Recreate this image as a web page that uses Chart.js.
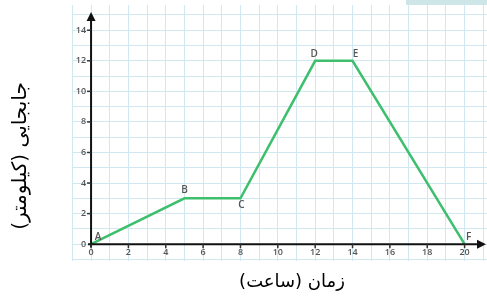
<!DOCTYPE html>
<html>
<head>
<meta charset="utf-8">
<script src="https://cdn.jsdelivr.net/npm/chart.js@4/dist/chart.umd.min.js"></script>
<style>
  body { margin: 0; background: #fff; }
</style>
</head>
<body>
<canvas id="myChart" width="487" height="300"></canvas>
<script>
// time (hours) and displacement (km)
var hours = [0, 5, 8, 12, 14, 20];
var km = [0, 3, 3, 12, 12, 0];
var pointNames = ['A', 'B', 'C', 'D', 'E', 'F'];
var xTickLabels = [0, 2, 4, 6, 8, 10, 12, 14, 16, 18, 20];
var yTickLabels = [0, 2, 4, 6, 8, 10, 12, 14];
var xTitel = 'زمان (ساعت)';
var yTitel = 'جابجایی (کیلومتر)';

// where each letter sits relative to its point
var nameOffsets = [[7, -7], [0, -8], [1, 7], [-1, -7], [3, -7], [4, -7]];

var punten = hours.map(function (h, i) { return { x: h, y: km[i] }; });

function eenheden(lo, hi) {
    var t = [];
    for (var v = lo; v <= hi; v++) t.push({ value: v });
    return t;
}

var assen = {
    id: 'assen',
    beforeDraw: function (chart) {
        var c = chart.ctx;
        c.save();
        c.fillStyle = '#cfe6e9';
        c.fillRect(406, 0, 81, 5);
        c.restore();
    },
    afterDatasetsDraw: function (chart) {
        var c = chart.ctx;
        var xs = chart.scales.x, ys = chart.scales.y;
        var x0 = xs.getPixelForValue(0), y0 = ys.getPixelForValue(0);
        c.save();
        c.strokeStyle = '#111';
        c.fillStyle = '#111';
        c.lineWidth = 2;
        // y axis with arrow
        var top = 12;
        c.beginPath();
        c.moveTo(x0, y0 + 3);
        c.lineTo(x0, top + 6);
        c.stroke();
        c.beginPath();
        c.moveTo(x0, top);
        c.lineTo(x0 - 4.5, top + 9);
        c.lineTo(x0 + 4.5, top + 9);
        c.closePath();
        c.fill();
        // x axis with arrow
        var right = 486;
        c.beginPath();
        c.moveTo(x0 - 3, y0);
        c.lineTo(right - 6, y0);
        c.stroke();
        c.beginPath();
        c.moveTo(right, y0);
        c.lineTo(right - 9, y0 - 4.5);
        c.lineTo(right - 9, y0 + 4.5);
        c.closePath();
        c.fill();

        // tick marks and labels
        c.lineWidth = 1.5;
        c.font = '600 9px "Open Sans"';
        c.fillStyle = '#555';
        c.strokeStyle = '#333';
        c.textAlign = 'right';
        c.textBaseline = 'middle';
        yTickLabels.forEach(function (v) {
            var py = ys.getPixelForValue(v);
            if (v !== 0) {
                c.beginPath();
                c.moveTo(x0 - 4, py);
                c.lineTo(x0, py);
                c.stroke();
            }
            c.fillText(String(v), x0 - 5, py);
        });
        c.textAlign = 'center';
        c.textBaseline = 'top';
        xTickLabels.forEach(function (v) {
            var px = xs.getPixelForValue(v);
            c.beginPath();
            c.moveTo(px, y0);
            c.lineTo(px, y0 + 4);
            c.stroke();
            c.fillText(String(v), px, y0 + 4);
        });

        // point letters
        c.font = '600 10px "Open Sans"';
        c.textBaseline = 'middle';
        pointNames.forEach(function (n, i) {
            var px = xs.getPixelForValue(hours[i]);
            var py = ys.getPixelForValue(km[i]);
            c.fillText(n, px + nameOffsets[i][0], py + nameOffsets[i][1]);
        });

        // axis titles
        c.fillStyle = '#000';
        c.font = '18px "DejaVu Sans"';
        c.textAlign = 'center';
        c.textBaseline = 'middle';
        c.fillText(xTitel, 292, 282);
        c.translate(21, 156);
        c.rotate(-Math.PI / 2);
        c.font = '20px "DejaVu Sans"';
        c.fillText(yTitel, 0, 0);
        c.restore();
    }
};

var ctx = document.getElementById('myChart').getContext('2d');
var chart = new Chart(ctx, {
    type: 'line',
    data: {
        datasets: [{
            data: punten,
            borderColor: '#3dbf6d',
            borderWidth: 2.5,
            pointRadius: 0,
            tension: 0,
            fill: false
        }]
    },
    options: {
        responsive: false,
        animation: false,
        layout: { padding: { left: 72, top: 5, right: 0, bottom: 39 } },
        plugins: {
            legend: { display: false },
            tooltip: { enabled: false }
        },
        scales: {
            x: {
                type: 'linear',
                min: -1.02,
                max: 21.2,
                afterBuildTicks: function (s) { s.ticks = eenheden(-1, 21); },
                ticks: { display: false },
                grid: { color: '#d2e8f1', lineWidth: 1, drawTicks: false },
                border: { display: false }
            },
            y: {
                type: 'linear',
                min: -1.1,
                max: 15.65,
                afterBuildTicks: function (s) { s.ticks = eenheden(-1, 15); },
                ticks: { display: false },
                grid: { color: '#d2e8f1', lineWidth: 1, drawTicks: false },
                border: { display: false }
            }
        }
    },
    plugins: [assen]
});
</script>
</body>
</html>
